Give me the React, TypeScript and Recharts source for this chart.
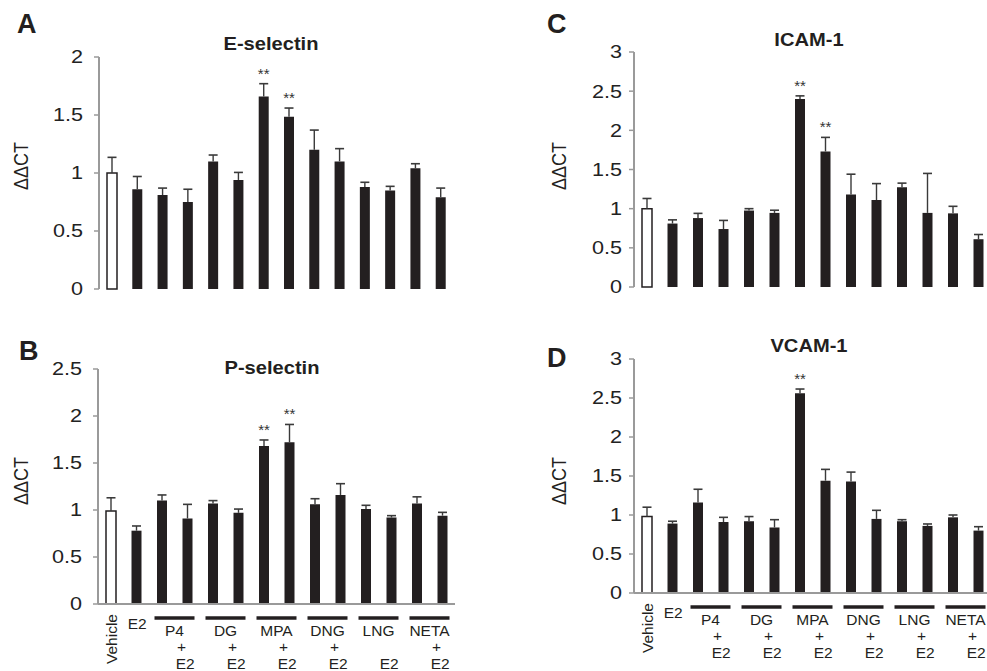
import React from 'react';
import { BarChart, Bar, XAxis, YAxis, Cell, LabelList } from 'recharts';

const categories = [
  'Vehicle', 'E2', 'P4', 'P4+E2', 'DG', 'DG+E2', 'MPA', 'MPA+E2',
  'DNG', 'DNG+E2', 'LNG', 'LNG+E2', 'NETA', 'NETA+E2',
];
const groups = ['P4', 'DG', 'MPA', 'DNG', 'LNG', 'NETA'];

// A: E-selectin
const eSelectin = [1.0, 0.86, 0.81, 0.75, 1.1, 0.94, 1.66, 1.485, 1.2, 1.1, 0.88, 0.85, 1.04, 0.79];
const eSelectinSem = [0.135, 0.11, 0.06, 0.11, 0.055, 0.065, 0.11, 0.075, 0.17, 0.11, 0.04, 0.035, 0.04, 0.08];
const eSelectinSig = ['', '', '', '', '', '', '**', '**', '', '', '', '', '', ''];

// B: P-selectin
const pSelectin = [0.99, 0.78, 1.1, 0.91, 1.07, 0.97, 1.68, 1.72, 1.06, 1.16, 1.01, 0.92, 1.07, 0.94];
const pSelectinSem = [0.14, 0.05, 0.06, 0.15, 0.03, 0.04, 0.065, 0.19, 0.06, 0.12, 0.04, 0.02, 0.07, 0.035];
const pSelectinSig = ['', '', '', '', '', '', '**', '**', '', '', '', '', '', ''];
const pSelectinPlus = [true, true, true, true, false, true];

// C: ICAM-1
const icam = [1.0, 0.81, 0.88, 0.74, 0.976, 0.946, 2.4, 1.73, 1.18, 1.11, 1.275, 0.946, 0.94, 0.61];
const icamSem = [0.13, 0.047, 0.06, 0.11, 0.024, 0.034, 0.04, 0.18, 0.26, 0.21, 0.051, 0.504, 0.09, 0.06];
const icamSig = ['', '', '', '', '', '', '**', '**', '', '', '', '', '', ''];

// D: VCAM-1
const vcam = [0.98, 0.89, 1.16, 0.91, 0.92, 0.84, 2.56, 1.44, 1.43, 0.95, 0.92, 0.86, 0.97, 0.8];
const vcamSem = [0.12, 0.03, 0.17, 0.06, 0.06, 0.1, 0.055, 0.145, 0.12, 0.11, 0.02, 0.025, 0.03, 0.05];
const vcamSig = ['', '', '', '', '', '', '**', '', '', '', '', '', '', ''];
const vcamPlus = [true, true, true, true, true, true];

const ticks2 = [0, 0.5, 1, 1.5, 2];
const ticks25 = [0, 0.5, 1, 1.5, 2, 2.5];
const ticks3 = [0, 0.5, 1, 1.5, 2, 2.5, 3];

const FONT = '"Liberation Sans", Arial, Helvetica, sans-serif';
const INK = '#231f20';
const AXIS = '#9a9a9a';

const ErrShape = (props: any) => {
  const { x, y, width, height } = props;
  if (!height || height <= 0) return null;
  const cx = x + width / 2;
  return (
    <g>
      <line x1={cx} x2={cx} y1={y} y2={y + height} stroke="#3a3a3a" strokeWidth={1.4} />
      <line x1={cx - 4.5} x2={cx + 4.5} y1={y} y2={y} stroke="#3a3a3a" strokeWidth={1.6} />
    </g>
  );
};

const SigLabel = (props: any) => {
  const { x, y, width, value } = props;
  if (!value) return null;
  return (
    <text
      x={x + width / 2}
      y={y - 5}
      textAnchor="middle"
      fontSize={15}
      fill="#333333"
      fontFamily={FONT}
    >
      {value}
    </text>
  );
};

// reference tick numbers look slightly wide, so stretch them a little
const YTick = (props: any) => {
  const { x, y, payload } = props;
  return (
    <text
      transform={`translate(${x},${y}) scale(1.2,1)`}
      textAnchor="end"
      dy="0.36em"
      fontSize={18}
      fill="#222"
      fontFamily={FONT}
    >
      {payload.value}
    </text>
  );
};

const makeTick = (band: number, plus: boolean[]) => (props: any) => {
  const { x, y, index } = props;
  const t = { fontSize: 15.5, fill: INK, fontFamily: FONT };
  if (index === 0) {
    return (
      <text transform={`translate(${x + 6},${y + 60}) rotate(-90)`} textAnchor="start" {...t}>
        {categories[0]}
      </text>
    );
  }
  if (index === 1) {
    return (
      <text x={x + 1} y={y + 25} textAnchor="middle" {...t}>
        {categories[1]}
      </text>
    );
  }
  if (index % 2 === 0) return <g />;
  const g = (index - 3) / 2;
  const pc = x - band / 2;
  return (
    <g>
      <line x1={pc - 20} x2={pc + 20} y1={y + 14} y2={y + 14} stroke={INK} strokeWidth={3.5} />
      <text x={pc} y={y + 32} textAnchor="middle" {...t}>{groups[g]}</text>
      {plus[g] ? (
        <text x={pc + 7} y={y + 48} textAnchor="middle" {...t}>+</text>
      ) : null}
      <text x={x - 2} y={y + 65} textAnchor="middle" {...t}>E2</text>
    </g>
  );
};

interface PanelProps {
  values: number[];
  sem: number[];
  sig: string[];
  yMax: number;
  yTicks: number[];
  left: number;
  top: number;
  width: number;
  height: number;
  margin: { top: number; right: number; bottom: number; left: number };
  xHeight: number;
  tickMargin: number;
  plus?: boolean[];
}

function Panel(p: PanelProps) {
  const data = categories.map((name, i) => ({
    name,
    value: p.values[i],
    sem: p.sem[i],
    sig: p.sig[i],
  }));
  const plotW = p.width - p.margin.left - p.margin.right - 60;
  const band = plotW / categories.length;
  return (
    <div style={{ position: 'absolute', left: p.left, top: p.top }}>
      <BarChart width={p.width} height={p.height} data={data} margin={p.margin} barSize={10}>
        <XAxis
          dataKey="name"
          height={p.xHeight}
          interval={0}
          axisLine={{ stroke: AXIS, strokeWidth: 2 }}
          tickLine={false}
          tickSize={0}
          tickMargin={0}
          tick={p.plus ? makeTick(band, p.plus) : false}
        />
        <YAxis
          type="number"
          domain={[0, p.yMax]}
          ticks={p.yTicks}
          interval={0}
          width={60}
          tickSize={5}
          tickMargin={p.tickMargin}
          axisLine={{ stroke: AXIS, strokeWidth: 2 }}
          tickLine={{ stroke: AXIS, strokeWidth: 1.5 }}
          tick={YTick}
        />
        <Bar dataKey="value" stackId="s" isAnimationActive={false}>
          {data.map((d, i) => (
            <Cell
              key={d.name}
              fill={i === 0 ? '#ffffff' : INK}
              stroke={i === 0 ? INK : 'none'}
              strokeWidth={i === 0 ? 1.5 : 0}
            />
          ))}
        </Bar>
        <Bar dataKey="sem" stackId="s" isAnimationActive={false} shape={ErrShape}>
          <LabelList dataKey="sig" content={SigLabel} />
        </Bar>
      </BarChart>
    </div>
  );
}

const letterStyle = { fontSize: 27, fontWeight: 700, fill: INK, fontFamily: FONT } as const;
const titleStyle = { fontSize: 17.5, fontWeight: 700, fill: INK, fontFamily: FONT } as const;
const ylabStyle = { fontSize: 18, fill: INK, fontFamily: FONT } as const;

export default function App() {
  return (
    <div
      style={{
        position: 'absolute',
        left: 0,
        top: 0,
        width: 987,
        height: 671,
        overflow: 'hidden',
        background: '#fff',
        fontFamily: FONT,
      }}
    >
      <Panel
        values={eSelectin} sem={eSelectinSem} sig={eSelectinSig}
        yMax={2} yTicks={ticks2}
        left={0} top={0} width={470} height={300}
        margin={{ top: 57, right: 17, bottom: 11, left: 39 }}
        xHeight={0} tickMargin={11}
      />
      <Panel
        values={pSelectin} sem={pSelectinSem} sig={pSelectinSig}
        yMax={2.5} yTicks={ticks25}
        left={0} top={320} width={470} height={351}
        margin={{ top: 49, right: 15, bottom: 0, left: 38 }}
        xHeight={67} tickMargin={11} plus={pSelectinPlus}
      />
      <Panel
        values={icam} sem={icamSem} sig={icamSig}
        yMax={3} yTicks={ticks3}
        left={520} top={0} width={471} height={300}
        margin={{ top: 52, right: 0, bottom: 13, left: 54 }}
        xHeight={0} tickMargin={7}
      />
      <Panel
        values={vcam} sem={vcamSem} sig={vcamSig}
        yMax={3} yTicks={ticks3}
        left={520} top={320} width={471} height={351}
        margin={{ top: 39, right: 0, bottom: 0, left: 54 }}
        xHeight={78} tickMargin={7} plus={vcamPlus}
      />
      <svg
        width={987}
        height={671}
        style={{ position: 'absolute', left: 0, top: 0, pointerEvents: 'none' }}
      >
        <text x={17} y={33} {...letterStyle}>A</text>
        <text x={19} y={360} {...letterStyle}>B</text>
        <text x={547} y={33} {...letterStyle}>C</text>
        <text x={547} y={367} {...letterStyle}>D</text>

        <text transform="translate(271,50) scale(1.15,1)" textAnchor="middle" {...titleStyle}>E-selectin</text>
        <text transform="translate(272,374) scale(1.15,1)" textAnchor="middle" {...titleStyle}>P-selectin</text>
        <text transform="translate(809,46) scale(1.15,1)" textAnchor="middle" {...titleStyle}>ICAM-1</text>
        <text transform="translate(809,352) scale(1.15,1)" textAnchor="middle" {...titleStyle}>VCAM-1</text>

        <text transform="translate(28,166) rotate(-90) scale(1,1.15)" textAnchor="middle" {...ylabStyle}>ΔΔCT</text>
        <text transform="translate(28,481) rotate(-90) scale(1,1.15)" textAnchor="middle" {...ylabStyle}>ΔΔCT</text>
        <text transform="translate(566,166) rotate(-90) scale(1,1.15)" textAnchor="middle" {...ylabStyle}>ΔΔCT</text>
        <text transform="translate(566,481) rotate(-90) scale(1,1.15)" textAnchor="middle" {...ylabStyle}>ΔΔCT</text>
      </svg>
    </div>
  );
}
